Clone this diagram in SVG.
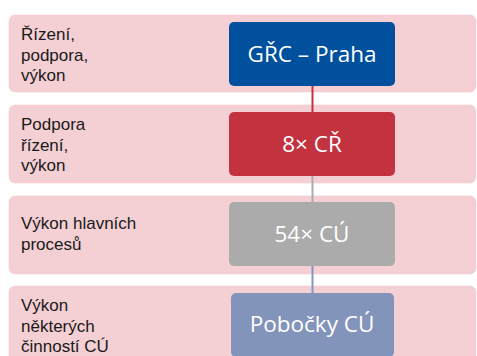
<svg xmlns="http://www.w3.org/2000/svg" width="477" height="356" viewBox="0 0 477 356">
<style>
.band{fill:#F4D0D4;stroke:#F0C6CB;stroke-width:0.5}
.lbl{font-family:"Liberation Sans",Arial,sans-serif;font-size:17px;fill:#1a1a1a}
.nt{font-family:"Open Sans","Liberation Sans",Arial,sans-serif;font-size:22.5px;fill:#ffffff;text-anchor:middle}
.conn{stroke-width:2;fill:none}
</style>
<rect width="477" height="356" fill="#ffffff"/>
<g id="bands">
<rect class="band" x="9" y="15" width="467" height="77" rx="6"/>
<rect class="band" x="9" y="105" width="467" height="78" rx="6"/>
<rect class="band" x="9" y="196" width="467" height="78" rx="6"/>
<rect class="band" x="9" y="286" width="467" height="80" rx="6"/>
</g>
<g id="labels">
<text class="lbl" x="21" y="40">Řízení,</text>
<text class="lbl" x="21" y="61">podpora,</text>
<text class="lbl" x="21" y="81">výkon</text>
<text class="lbl" x="21" y="130">Podpora</text>
<text class="lbl" x="21" y="151">řízení,</text>
<text class="lbl" x="21" y="171">výkon</text>
<text class="lbl" x="21" y="229">Výkon hlavních</text>
<text class="lbl" x="21" y="250">procesů</text>
<text class="lbl" x="21" y="311">Výkon</text>
<text class="lbl" x="21" y="331.5">některých</text>
<text class="lbl" x="21" y="352">činností CÚ</text>
</g>
<g id="connectors">
<line class="conn" x1="312.5" y1="86" x2="312.5" y2="112" stroke="#C3323F"/>
<line class="conn" x1="312.5" y1="176" x2="312.5" y2="202" stroke="#ABABAB"/>
<line class="conn" x1="312.5" y1="266" x2="312.5" y2="293" stroke="#7F97C6"/>
</g>
<g id="n1">
<rect x="229" y="22" width="166" height="64" rx="5" fill="#01509E"/>
<text class="nt" x="312" y="61.7">GŘC – Praha</text>
</g>
<g id="n2">
<rect x="229" y="112" width="166" height="64" rx="5" fill="#C3323F"/>
<text class="nt" x="312" y="151.7">8× CŘ</text>
</g>
<g id="n3">
<rect x="229" y="202" width="166" height="64" rx="5" fill="#ABABAB"/>
<text class="nt" x="312" y="241.7">54× CÚ</text>
</g>
<g id="n4">
<rect x="231" y="293" width="163" height="64" rx="5" fill="#8394BA"/>
<text class="nt" x="312" y="331.7">Pobočky CÚ</text>
</g>
</svg>
